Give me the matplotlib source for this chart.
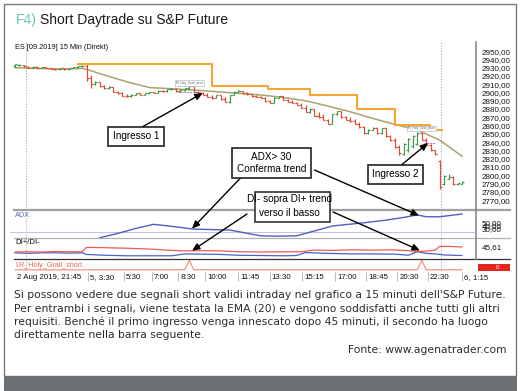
import numpy as np
import matplotlib
matplotlib.use("Agg")
import matplotlib.pyplot as plt
from matplotlib.patches import Rectangle

# ---------------- data ----------------
# 15-minute OHLC bars of ES [09.2019]
opens = [2931.5, 2933, 2933, 2930.5, 2930, 2931, 2930, 2930.5, 2929.5, 2928.5,
         2928, 2929, 2928, 2929.5, 2930.5, 2931.5, 2932.5, 2918, 2910, 2913,
         2908, 2905, 2907, 2901, 2899, 2896, 2895.5, 2897.5, 2899, 2897.5,
         2899, 2900.5, 2899.5, 2902, 2901.5, 2904, 2904.5, 2901.5, 2903.5, 2905,
         2907.5, 2901, 2899, 2897.5, 2895, 2893.5, 2896.5, 2892, 2889, 2897,
         2901, 2901.5, 2899, 2898, 2895.5, 2894.5, 2893.5, 2889.5, 2887.5, 2893.5,
         2895.5, 2891.5, 2889, 2887.5, 2885, 2881.5, 2877, 2880.5, 2872, 2870,
         2867, 2862, 2873.5, 2877.5, 2870.5, 2867, 2865, 2862, 2858, 2850.5,
         2855, 2857.5, 2850.5, 2856.5, 2847, 2842, 2834, 2826, 2830, 2835,
         2838, 2851, 2843, 2837, 2830, 2817, 2790, 2796, 2798, 2789,
         2790]
highs = [2934.5, 2934, 2933.5, 2931.5, 2931.5, 2931.5, 2931, 2931, 2930, 2929.5,
         2929.5, 2929.5, 2930, 2931, 2932, 2933, 2934, 2921, 2913.5, 2913,
         2908.5, 2907.5, 2907, 2902, 2900, 2898, 2898, 2899.5, 2899.5, 2899.5,
         2901, 2901, 2902.5, 2903.5, 2904.5, 2905, 2905, 2904, 2905.5, 2908,
         2907.5, 2902, 2900, 2899, 2897, 2897, 2897, 2894, 2897.5, 2901.5,
         2902.5, 2901.5, 2900.5, 2898.5, 2897, 2895.5, 2894, 2891.5, 2894, 2896,
         2896, 2892, 2891, 2889, 2887, 2884.5, 2881, 2880.5, 2876.5, 2874,
         2868.5, 2874, 2878, 2877.5, 2872, 2870, 2867.5, 2864.5, 2860, 2855.5,
         2858, 2858, 2857, 2856.5, 2849, 2845, 2836, 2839, 2845, 2849,
         2852, 2851.5, 2845, 2838, 2831, 2818, 2800, 2801, 2799, 2791,
         2793]
lows = [2931, 2932.5, 2931, 2929.5, 2929.5, 2929.5, 2929, 2929, 2928, 2927.5,
        2927.5, 2927.5, 2927.5, 2929, 2930, 2931, 2914, 2905, 2909.5, 2907,
        2904.5, 2904.5, 2900, 2898.5, 2895.5, 2895, 2895, 2897, 2897, 2897,
        2898.5, 2899, 2899, 2901, 2901, 2903, 2901, 2900, 2901.5, 2903,
        2900, 2898, 2897, 2894.5, 2892.5, 2893, 2891.5, 2888.5, 2887, 2896.5,
        2900, 2898.5, 2897.5, 2895, 2894, 2893, 2889, 2887, 2887, 2893,
        2891, 2888.5, 2887, 2884.5, 2881, 2876.5, 2875.5, 2871, 2869.5, 2866.5,
        2861.5, 2861.5, 2872.5, 2869.5, 2866.5, 2864.5, 2861.5, 2857.5, 2849.5, 2849.5,
        2854.5, 2849.5, 2850, 2846.5, 2841, 2833, 2825, 2824, 2828, 2833,
        2836, 2842, 2836, 2829, 2825, 2783, 2788, 2795, 2788, 2788,
        2789.5]
closes = [2934, 2933.5, 2931.5, 2930, 2931, 2930, 2930.5, 2929.5, 2928.5, 2928,
          2929, 2928, 2929.5, 2930.5, 2931.5, 2932.5, 2918, 2910, 2913, 2908,
          2905, 2907, 2901, 2899, 2896, 2895.5, 2897.5, 2899, 2897.5, 2899,
          2900.5, 2899.5, 2902, 2901.5, 2904, 2904.5, 2901.5, 2903.5, 2905, 2907.5,
          2901, 2899, 2897.5, 2895, 2893.5, 2896.5, 2892, 2889, 2897, 2901,
          2901.5, 2899, 2898, 2895.5, 2894.5, 2893.5, 2889.5, 2887.5, 2893.5, 2895.5,
          2891.5, 2889, 2887.5, 2885, 2881.5, 2877, 2880.5, 2872, 2870, 2867,
          2862, 2873.5, 2877.5, 2870.5, 2867, 2865, 2862, 2858, 2850.5, 2855,
          2857.5, 2850.5, 2856.5, 2847, 2842, 2834, 2827, 2838, 2844, 2848,
          2851, 2843, 2837, 2830, 2826, 2786, 2799, 2798, 2789, 2790.5,
          2792]

# EMA(20)
ema_idx = [0, 5, 10, 15, 16, 18, 20, 25, 30, 35, 40, 45, 50, 55, 60, 65, 70, 75, 80, 85, 90, 95, 100]
ema_val = [2929.9, 2929.1, 2928.3, 2929.1, 2928.0, 2924.5, 2921.0, 2913.0, 2906.0, 2904.5,
           2903.0, 2901.0, 2899.0, 2897.0, 2894.0, 2890.0, 2883.6, 2876.7, 2868.7, 2861.4,
           2854.6, 2842.5, 2823.0]

# orange trailing stop (step line)
stop_idx = [14, 44, 56.5, 66, 76.5, 85, 92.8, 95.5]
stop_val = [2935.0, 2907.7, 2903.7, 2896.9, 2879.6, 2860.6, 2854.6, 2854.6]

# ADX
adx_idx = [19, 23, 27, 31, 35, 40, 45, 48, 51, 55, 59, 63, 67, 71, 75, 79, 83, 87, 90, 92, 95, 100]
adx_val = [0, 14, 30, 43.5, 37, 28, 26, 25, 17, 6, 5, 6, 22, 38, 44, 50, 57, 66, 74, 68, 68, 77]
adx_level = 20
adx_ticks = [30, 40, 50]

# DI- (red) and DI+ (blue)
dim_idx = [0, 3, 6, 9, 12, 15, 16, 20, 25, 30, 35, 38, 42, 46, 50, 55, 60, 64, 67, 71,
           75, 80, 84, 87, 90, 92, 94, 95, 97, 100]
dim_val = [27, 28, 27, 29, 28, 28, 44, 43, 41, 38, 33, 31, 32, 31, 28, 27, 28, 28, 34, 33,
           35, 34, 35, 33, 29, 30, 34, 48, 48, 45.61]
dip_idx = [0, 3, 6, 9, 12, 15, 16, 20, 25, 30, 35, 38, 42, 46, 50, 55, 60, 63, 65, 70,
           75, 80, 85, 88, 90, 92, 94, 96, 100]
dip_val = [24, 22, 24, 24, 23, 24, 18, 15, 13, 13, 13, 20, 19, 18, 15, 14, 13, 14, 25, 22,
           20, 20, 19, 15, 28, 22, 20, 16, 14]

# LR_Holy_Grail_short signals
signal_bars = [39, 91]
entry_levels = [2900.5, 2839.0]
entry_from = [36.5, 91.5]
entry_to = [41.5, 94.0]

# time axis
tick_idx = [0, 16.3, 24.4, 30.6, 36.5, 42.5, 49.9, 57.0, 64.2, 71.6, 78.5, 85.5, 92.4, 100]
tick_lab = ["2 Aug 2019, 21:45", "5, 3:30", "5:30", "7:00", "8:30", "10:00", "11:45",
            "13:30", "15:15", "17:00", "18:45", "20:30", "22:30", "6, 1:15"]
day_sep = [2.5, 95.2]
price_ticks = list(range(2770, 2951, 10))

# annotation targets (bar index, value)
entry_targets = [(42.0, 2899.3), (92.4, 2838.9)]
adx_targets = [(39.6, 29.3), (90.4, 72.0)]
di_targets = [(39.6, 31.8), (90.6, 32.6)]

caption_lines = [
    "Si possono vedere due segnali short validi intraday nel grafico a 15 minuti dell'S&P Future.",
    "Per entrambi i segnali, viene testata la EMA (20) e vengono soddisfatti anche tutti gli altri",
    "requisiti. Benché il primo ingresso venga innescato dopo 45 minuti, il secondo ha luogo",
    "direttamente nella barra seguente.",
]

# ---------------- style ----------------
GREEN = "#3a9a48"
RED = "#e5482d"
EMA_C = "#aaa36e"
ORANGE = "#f6a533"
ADX_C = "#4f5fbf"
DIP_C = "#4c62c9"
DIM_C = "#ef5a5a"
SEP_C = "#9aaad8"

W, H = 524, 391
plt.rcParams["font.family"] = ["Liberation Sans", "DejaVu Sans"]
fig = plt.figure(figsize=(W / 100, H / 100), dpi=100)

X0, X1 = 10, 476
BAR0, BARPX = 15, 4.47
XLIM = ((X0 - BAR0) / BARPX, (X1 - BAR0) / BARPX)


def axes_px(y0, y1):
    ax = fig.add_axes([X0 / W, 1 - y1 / H, (X1 - X0) / W, (y1 - y0) / H])
    ax.set_xlim(*XLIM)
    ax.patch.set_alpha(0)
    for s in ax.spines.values():
        s.set_visible(False)
    ax.set_xticks([])
    return ax


def right_ticks(ax, vals, labels):
    ax.yaxis.tick_right()
    ax.set_yticks(vals)
    ax.set_yticklabels(labels)
    ax.tick_params(axis="y", length=0, pad=4.2, labelsize=5.8, labelcolor="#111111")


n = len(closes)
idx = np.arange(n)
o = np.array(opens); hi = np.array(highs); lo = np.array(lows); c = np.array(closes)
col = np.where(c >= o, GREEN, RED)

# price panel
ax_p = axes_px(42, 210)
ax_p.set_ylim(2758, 2961)
ax_p.plot(ema_idx, ema_val, color=EMA_C, lw=1.1, zorder=2)
ax_p.vlines(idx, lo, hi, colors=col, lw=0.85, zorder=3)
ax_p.hlines(o, idx - 0.45, idx, colors=col, lw=0.85, zorder=3)
ax_p.hlines(c, idx, idx + 0.45, colors=col, lw=0.85, zorder=3)
ax_p.step(stop_idx, stop_val, where="post", color=ORANGE, lw=1.5, zorder=4)
for lev, a, b in zip(entry_levels, entry_from, entry_to):
    ax_p.hlines(lev, a, b, colors="#b070c8", lw=0.7, linestyles=(0, (2, 1)), zorder=5)
for sb in signal_bars:
    ax_p.text(sb, hi[sb] + 3.2 if sb < 60 else hi[sb] + 5, "LR_Holy_Grail_short", fontsize=2.2,
              ha="center", va="center", color="#666666", zorder=6,
              bbox=dict(boxstyle="square,pad=0.25", fc="white", ec="#aaaaaa", lw=0.4))
right_ticks(ax_p, price_ticks, [f"{v},00" for v in price_ticks])

# ADX panel
ax_a = axes_px(210, 237.7)
ax_a.set_ylim(0, 90)
ax_a.axhline(adx_level, color="#cbbde3", lw=0.8)
ax_a.plot(adx_idx, adx_val, color=ADX_C, lw=1.0)
right_ticks(ax_a, adx_ticks, [f"{v},00" for v in adx_ticks])

# DI panel
ax_d = axes_px(237.7, 259.3)
ax_d.set_ylim(0, 80)
ax_d.plot(dip_idx, dip_val, color=DIP_C, lw=0.9)
ax_d.plot(dim_idx, dim_val, color=DIM_C, lw=0.9)
right_ticks(ax_d, [dim_val[-1]], [f"{dim_val[-1]:.2f}".replace(".", ",")])

# LR signal panel
ax_l = axes_px(259.3, 271)
ax_l.set_ylim(-0.12, 1.1)
ax_l.set_yticks([])
sig = np.zeros(n)
sig[signal_bars] = 1
ax_l.plot(idx, sig, color="#f08a70", lw=0.8)

for ax in (ax_p, ax_a, ax_d, ax_l):
    for d in day_sep:
        ax.axvline(d, color=SEP_C, lw=0.8, ls=(0, (1, 1.5)), zorder=1)

# time axis
ax_t = axes_px(271, 282)
ax_t.set_ylim(0, 1)
ax_t.set_yticks([])
ax_t.vlines(tick_idx[1:], 0.05, 0.95, colors="#bbbbbb", lw=0.8)
for t, lab in zip(tick_idx, tick_lab):
    ax_t.text(t + 0.45, 0.45, lab, fontsize=5.7, ha="left", va="center", color="#111111")

# ---------------- overlay in pixel coordinates ----------------
ov = fig.add_axes([0, 0, 1, 1])
ov.set_xlim(0, W)
ov.set_ylim(H, 0)
ov.axis("off")
ov.patch.set_alpha(0)

ov.add_patch(Rectangle((4, 4), 512, 372, fill=False, ec="#7a7a7a", lw=1.0))
ov.add_patch(Rectangle((4, 376), 513, 15, fc="#6c6f74", ec="none"))

# panel separators
ov.plot([14, 510], [210, 210], color="#a0a0a0", lw=1.6)
ov.plot([14, 510], [237.7, 237.7], color="#b0b0b0", lw=0.9)
ov.plot([14, 510], [259.3, 259.3], color="#333333", lw=0.9)
ov.plot([476, 476], [42, 259.3], color="#8a8a8a", lw=1.2)

# red LR value tag
ov.add_patch(Rectangle((478, 264), 32, 7, fc="#e3261b", ec="none"))
ov.text(497, 267.8, "0", color="white", fontsize=4.5, ha="center", va="center")

# panel labels
ov.text(15, 215.5, "ADX", fontsize=5.2, color="#5a68b5", va="center")
ov.text(15, 243, "DI+/DI-", fontsize=5.6, color="#111111", va="center")
ov.text(15, 265.3, "LR_Holy_Grail_short", fontsize=5.2, color="#ef6a50", va="center")

# title & subtitle
fig.canvas.draw()
rend = fig.canvas.get_renderer()
t1 = ov.text(16, 24, "F4)", fontsize=10, color="#6cc3bb", va="baseline")
bb = t1.get_window_extent(rend)
ov.text(bb.x1 + 3.3, 24, "Short Daytrade su S&P Future", fontsize=10, color="#1a1a1a", va="baseline")
ov.text(15, 49, "ES [09.2019] 15 Min (Direkt)", fontsize=5.3, color="#111111", va="baseline")

# annotations
box = dict(boxstyle="square,pad=0.45", fc="white", ec="#222222", lw=1.2)
ap = dict(arrowstyle="-|>,head_length=0.45,head_width=0.2", color="black", lw=1.0,
          shrinkA=0, shrinkB=0, mutation_scale=10)
ov.text(136, 136, "Ingresso 1", fontsize=7.2, ha="center", va="center", bbox=box, zorder=10)
ov.text(395.5, 174, "Ingresso 2", fontsize=7.2, ha="center", va="center", bbox=box, zorder=10)
ov.text(271.5, 163, "ADX> 30\nConferma trend", fontsize=7.2, ha="center", va="center",
        linespacing=1.15, bbox=dict(box, pad=None), zorder=10)
ov.add_patch(Rectangle((255, 192), 75, 30, fc="white", ec="#222222", lw=1.1, zorder=9))
ov.text(289.5, 199, "DI- sopra DI+ trend", fontsize=7.2, ha="center", va="center", zorder=10)
ov.text(289.5, 213, "verso il basso", fontsize=7.2, ha="center", va="center", zorder=10,
        bbox=dict(boxstyle="square,pad=0.1", fc="white", ec="none"))

ov.annotate("", xy=entry_targets[0], xycoords=ax_p.transData, xytext=(143, 126.5),
            textcoords="data", arrowprops=ap, zorder=11)
ov.annotate("", xy=entry_targets[1], xycoords=ax_p.transData, xytext=(402, 164.5),
            textcoords="data", arrowprops=ap, zorder=11)
ov.annotate("", xy=adx_targets[0], xycoords=ax_a.transData, xytext=(240, 178.5),
            textcoords="data", arrowprops=ap, zorder=11)
ov.annotate("", xy=adx_targets[1], xycoords=ax_a.transData, xytext=(314.5, 170),
            textcoords="data", arrowprops=ap, zorder=11)
ov.annotate("", xy=di_targets[0], xycoords=ax_d.transData, xytext=(247, 214),
            textcoords="data", arrowprops=ap, zorder=11)
ov.annotate("", xy=di_targets[1], xycoords=ax_d.transData, xytext=(333, 212),
            textcoords="data", arrowprops=ap, zorder=11)

# caption (font size fitted so the first line spans the reference width)
cap_fs = 8.0
tl = ov.text(13.5, 298.5, caption_lines[0], fontsize=cap_fs, family="DejaVu Sans",
             color="#2b2b2b", va="baseline")
wpx = tl.get_window_extent(rend).width
cap_fs = cap_fs * 492.0 / wpx
tl.set_fontsize(cap_fs)
for k, line in enumerate(caption_lines[1:], start=1):
    ov.text(13.5, 298.5 + 13.1 * k, line, fontsize=cap_fs, family="DejaVu Sans",
            color="#2b2b2b", va="baseline")
ov.text(506, 353, "Fonte: www.agenatrader.com", fontsize=cap_fs, family="DejaVu Sans",
        color="#2b2b2b", va="baseline", ha="right")

fig.savefig("out.png", dpi=100)
